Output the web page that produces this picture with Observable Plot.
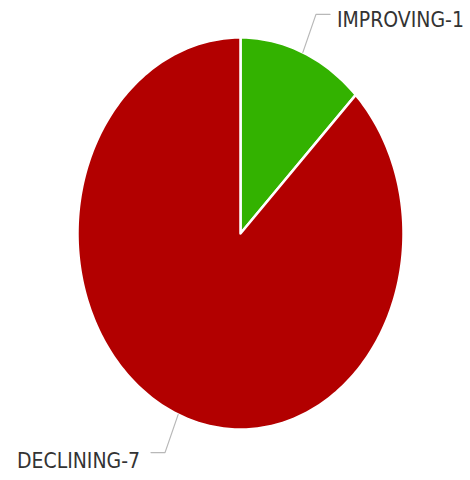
<!DOCTYPE html>
<html><head><meta charset="utf-8">
<script src="https://cdn.jsdelivr.net/npm/d3@7"></script>
<script src="https://cdn.jsdelivr.net/npm/@observablehq/plot@0.6"></script>
<style>body{margin:0;background:#fff}</style>
</head><body><div id="chart"></div>
<script>
const categories = ["IMPROVING", "DECLINING"];
const counts = [1, 7];
const colors = ["#33b200", "#b20000"];

const pie = d3.pie().sort(null)(counts);
const slices = [];
const leaders = [];
const labels = [];
const R = 1.21, H = 0.086;
pie.forEach((p, i) => {
  const k = categories[i];
  const n = Math.max(2, Math.ceil((p.endAngle - p.startAngle) / (Math.PI / 180)));
  slices.push({k, x: 0, y: 0});
  for (let j = 0; j <= n; j++) {
    const a = p.startAngle + (p.endAngle - p.startAngle) * j / n;
    slices.push({k, x: Math.sin(a), y: Math.cos(a)});
  }
  const m = (p.startAngle + p.endAngle) / 2;
  const right = Math.sin(m) >= 0;
  const ex = R * Math.sin(m), ey = R * Math.cos(m);
  leaders.push({k, x: Math.sin(m), y: Math.cos(m)});
  leaders.push({k, x: ex, y: ey});
  leaders.push({k, x: ex + (right ? H : -H), y: ey});
  labels.push({k, x: ex, y: ey, right, text: `${k}-${counts[i]}`});
});

const chart = Plot.plot({
  width: 470,
  height: 480,
  margin: 0,
  x: {axis: null, domain: [-240 / 163, 230 / 163]},
  y: {axis: null, domain: [(233 - 480) / 196, 233 / 196]},
  color: {domain: categories, range: colors},
  style: {background: "#fff"},
  marks: [
    Plot.line(slices, {x: "x", y: "y", z: "k", fill: "k", stroke: "white", strokeWidth: 2.5, curve: "linear-closed"}),
    Plot.line(leaders, {x: "x", y: "y", z: "k", stroke: "#b8b8b8", strokeWidth: 1.2}),
    Plot.text(labels.filter(d => d.right), {x: "x", y: "y", text: "text", textAnchor: "start", dx: 21, dy: 6, fontSize: 21, fill: "#333", fontFamily: "DejaVu Sans Condensed"}),
    Plot.text(labels.filter(d => !d.right), {x: "x", y: "y", text: "text", textAnchor: "end", dx: -25, dy: 9, fontSize: 21, fill: "#333", fontFamily: "DejaVu Sans Condensed"})
  ]
});
document.getElementById("chart").appendChild(chart);
</script>
</body></html>
